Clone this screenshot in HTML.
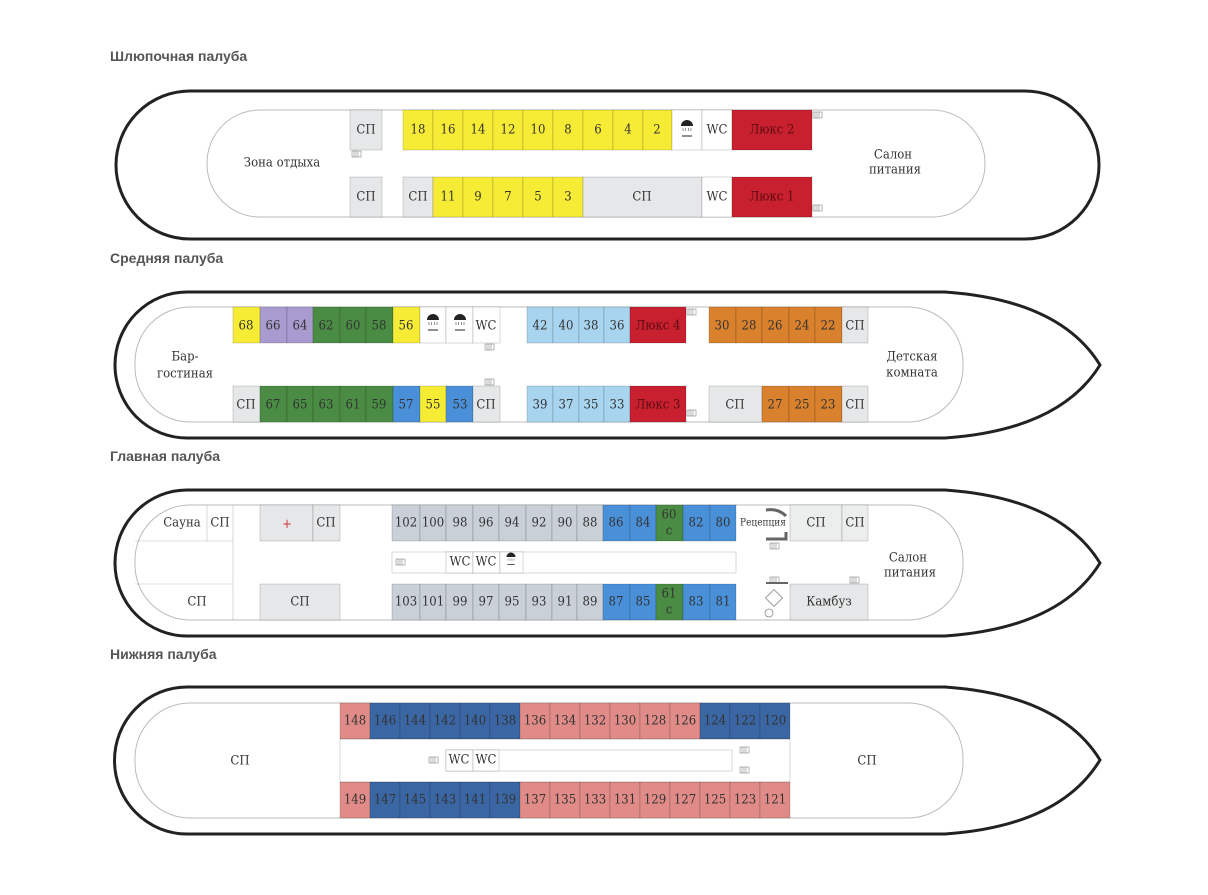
<!DOCTYPE html>
<html><head><meta charset="utf-8"><style>
html,body{margin:0;padding:0;background:#fff;}
svg{display:block;}
text{font-family:"DejaVu Serif Condensed","Liberation Sans Narrow","Liberation Sans",sans-serif;font-stretch:condensed;fill:#333;}
.t{font-family:"Liberation Sans",sans-serif;font-stretch:normal;font-size:14px;font-weight:bold;fill:#555;}
.n{font-size:13px;text-anchor:middle;dominant-baseline:central;}
.c{stroke:rgba(0,0,0,0.25);stroke-width:0.6;}
</style></head><body>
<svg width="1208" height="895" viewBox="0 0 1208 895" xmlns="http://www.w3.org/2000/svg">
<defs>
<g id="sh"><path d="M-6 4 A6 6 0 0 1 6 4 Z" fill="#222"/><path d="M-4 6V9M-1.3 6V9M1.3 6V9M4 6V9" stroke="#222" stroke-width="0.5"/><line x1="-5" y1="14" x2="5" y2="14" stroke="#222" stroke-width="1"/></g>
<g id="st"><rect x="0" y="0" width="9" height="6" fill="none" stroke="#888" stroke-width="0.6"/><path d="M2 0V6M4 0V6M6 0V6" stroke="#888" stroke-width="0.6"/></g>
</defs>

<text class="t" x="110" y="61">Шлюпочная палуба</text>
<text class="t" x="110" y="263">Средняя палуба</text>
<text class="t" x="110" y="461">Главная палуба</text>
<text class="t" x="110" y="659">Нижняя палуба</text>

<!-- DECK 1 -->
<rect x="116" y="91" width="983" height="148" rx="74" fill="#fff" stroke="#222" stroke-width="3"/>
<rect x="207" y="110" width="778" height="107" rx="53" fill="#fff" stroke="#bbb" stroke-width="1"/>
<g class="c">
<rect x="350" y="110" width="32" height="40" fill="#e6e7e8"/>
<rect x="403" y="110" width="30" height="40" fill="#f7ec35"/><rect x="433" y="110" width="30" height="40" fill="#f7ec35"/><rect x="463" y="110" width="30" height="40" fill="#f7ec35"/><rect x="493" y="110" width="30" height="40" fill="#f7ec35"/><rect x="523" y="110" width="30" height="40" fill="#f7ec35"/><rect x="553" y="110" width="30" height="40" fill="#f7ec35"/><rect x="583" y="110" width="30" height="40" fill="#f7ec35"/><rect x="613" y="110" width="30" height="40" fill="#f7ec35"/><rect x="643" y="110" width="29" height="40" fill="#f7ec35"/>
<rect x="672" y="110" width="30" height="40" fill="#fff"/><rect x="702" y="110" width="30" height="40" fill="#fff"/>
<rect x="732" y="110" width="80" height="40" fill="#c8202f"/>
<rect x="350" y="177" width="32" height="40" fill="#e6e7e8"/>
<rect x="403" y="177" width="30" height="40" fill="#e6e7e8"/>
<rect x="433" y="177" width="30" height="40" fill="#f7ec35"/><rect x="463" y="177" width="30" height="40" fill="#f7ec35"/><rect x="493" y="177" width="30" height="40" fill="#f7ec35"/><rect x="523" y="177" width="30" height="40" fill="#f7ec35"/><rect x="553" y="177" width="30" height="40" fill="#f7ec35"/>
<rect x="583" y="177" width="119" height="40" fill="#e6e7e8"/>
<rect x="702" y="177" width="30" height="40" fill="#fff"/>
<rect x="732" y="177" width="80" height="40" fill="#c8202f"/>
</g>
<use href="#st" x="352" y="151"/><use href="#st" x="813" y="112"/><use href="#st" x="813" y="205"/>
<use href="#sh" x="687" y="122"/>
<g class="n">
<text x="366" y="130">СП</text>
<text x="418" y="130">18</text><text x="448" y="130">16</text><text x="478" y="130">14</text><text x="508" y="130">12</text><text x="538" y="130">10</text><text x="568" y="130">8</text><text x="598" y="130">6</text><text x="628" y="130">4</text><text x="657" y="130">2</text>
<text x="717" y="130">WC</text><text x="772" y="130" style="fill:#5a0b10">Люкс 2</text>
<text x="366" y="197">СП</text><text x="418" y="197">СП</text>
<text x="448" y="197">11</text><text x="478" y="197">9</text><text x="508" y="197">7</text><text x="538" y="197">5</text><text x="568" y="197">3</text>
<text x="642" y="197">СП</text><text x="717" y="197">WC</text><text x="772" y="197" style="fill:#5a0b10">Люкс 1</text>
<text x="282" y="163">Зона отдыха</text>
<text x="893" y="155">Салон</text><text x="895" y="170">питания</text>
</g>

<!-- DECK 2 -->
<path d="M187 292 L945 292 Q1060 300 1100 365 Q1060 430 945 438 L187 438 A72 73 0 0 1 187 292 Z" fill="#fff" stroke="#222" stroke-width="3"/>
<rect x="135" y="307" width="828" height="115" rx="55" fill="#fff" stroke="#bbb" stroke-width="1"/>
<g class="c">
<rect x="233" y="307" width="27" height="36" fill="#f7ec35"/><rect x="260" y="307" width="27" height="36" fill="#a99bd0"/><rect x="287" y="307" width="26" height="36" fill="#a99bd0"/><rect x="313" y="307" width="27" height="36" fill="#4a8c43"/><rect x="340" y="307" width="26" height="36" fill="#4a8c43"/><rect x="366" y="307" width="27" height="36" fill="#4a8c43"/><rect x="393" y="307" width="27" height="36" fill="#f7ec35"/><rect x="420" y="307" width="26" height="36" fill="#fff"/><rect x="446" y="307" width="27" height="36" fill="#fff"/><rect x="473" y="307" width="27" height="36" fill="#fff"/>
<rect x="527" y="307" width="26" height="36" fill="#a8d4ef"/><rect x="553" y="307" width="26" height="36" fill="#a8d4ef"/><rect x="579" y="307" width="25" height="36" fill="#a8d4ef"/><rect x="604" y="307" width="26" height="36" fill="#a8d4ef"/><rect x="630" y="307" width="56" height="36" fill="#c8202f"/>
<rect x="709" y="307" width="27" height="36" fill="#d9812c"/><rect x="736" y="307" width="26" height="36" fill="#d9812c"/><rect x="762" y="307" width="27" height="36" fill="#d9812c"/><rect x="789" y="307" width="26" height="36" fill="#d9812c"/><rect x="815" y="307" width="27" height="36" fill="#d9812c"/><rect x="842" y="307" width="26" height="36" fill="#e6e7e8"/>
<rect x="233" y="386" width="27" height="36" fill="#e6e7e8"/><rect x="260" y="386" width="27" height="36" fill="#4a8c43"/><rect x="287" y="386" width="26" height="36" fill="#4a8c43"/><rect x="313" y="386" width="27" height="36" fill="#4a8c43"/><rect x="340" y="386" width="26" height="36" fill="#4a8c43"/><rect x="366" y="386" width="27" height="36" fill="#4a8c43"/><rect x="393" y="386" width="27" height="36" fill="#4a90d9"/><rect x="420" y="386" width="26" height="36" fill="#f7ec35"/><rect x="446" y="386" width="27" height="36" fill="#4a90d9"/><rect x="473" y="386" width="27" height="36" fill="#e6e7e8"/>
<rect x="527" y="386" width="26" height="36" fill="#a8d4ef"/><rect x="553" y="386" width="26" height="36" fill="#a8d4ef"/><rect x="579" y="386" width="25" height="36" fill="#a8d4ef"/><rect x="604" y="386" width="26" height="36" fill="#a8d4ef"/><rect x="630" y="386" width="56" height="36" fill="#c8202f"/>
<rect x="709" y="386" width="53" height="36" fill="#e6e7e8"/><rect x="762" y="386" width="27" height="36" fill="#d9812c"/><rect x="789" y="386" width="26" height="36" fill="#d9812c"/><rect x="815" y="386" width="27" height="36" fill="#d9812c"/><rect x="842" y="386" width="26" height="36" fill="#e6e7e8"/>
</g>
<use href="#sh" x="433" y="316"/><use href="#sh" x="460" y="316"/>
<use href="#st" x="485" y="344"/><use href="#st" x="485" y="379"/><use href="#st" x="687" y="309"/><use href="#st" x="687" y="410"/>
<g class="n">
<text x="246" y="326">68</text><text x="273" y="326">66</text><text x="300" y="326">64</text><text x="326" y="326">62</text><text x="353" y="326">60</text><text x="379" y="326">58</text><text x="406" y="326">56</text><text x="486" y="326">WC</text>
<text x="540" y="326">42</text><text x="566" y="326">40</text><text x="591" y="326">38</text><text x="617" y="326">36</text><text x="658" y="326" style="fill:#5a0b10">Люкс 4</text>
<text x="722" y="326">30</text><text x="749" y="326">28</text><text x="775" y="326">26</text><text x="802" y="326">24</text><text x="828" y="326">22</text><text x="855" y="326">СП</text>
<text x="246" y="405">СП</text><text x="273" y="405">67</text><text x="300" y="405">65</text><text x="326" y="405">63</text><text x="353" y="405">61</text><text x="379" y="405">59</text><text x="406" y="405">57</text><text x="433" y="405">55</text><text x="460" y="405">53</text><text x="486" y="405">СП</text>
<text x="540" y="405">39</text><text x="566" y="405">37</text><text x="591" y="405">35</text><text x="617" y="405">33</text><text x="658" y="405" style="fill:#5a0b10">Люкс 3</text>
<text x="735" y="405">СП</text><text x="775" y="405">27</text><text x="802" y="405">25</text><text x="828" y="405">23</text><text x="855" y="405">СП</text>
<text x="185" y="357">Бар-</text><text x="185" y="374">гостиная</text>
<text x="912" y="357">Детская</text><text x="912" y="373">комната</text>
</g>

<!-- DECK 3 -->
<path d="M187 490 L945 490 Q1060 498 1100 563 Q1060 628 945 636 L187 636 A72 73 0 0 1 187 490 Z" fill="#fff" stroke="#222" stroke-width="3"/>
<rect x="135" y="505" width="828" height="115" rx="55" fill="#fff" stroke="#bbb" stroke-width="1"/>
<g class="c">
<line x1="233" y1="505" x2="233" y2="620"/><line x1="135" y1="541" x2="233" y2="541"/><line x1="135" y1="584" x2="233" y2="584"/>
<line x1="207" y1="505" x2="207" y2="541"/>
<rect x="260" y="505" width="53" height="36" fill="#e6e7e8"/><rect x="313" y="505" width="27" height="36" fill="#e6e7e8"/>
<rect x="392" y="505" width="28" height="36" fill="#c9d0d8"/><rect x="420" y="505" width="26" height="36" fill="#c9d0d8"/><rect x="446" y="505" width="27" height="36" fill="#c9d0d8"/><rect x="473" y="505" width="26" height="36" fill="#c9d0d8"/><rect x="499" y="505" width="27" height="36" fill="#c9d0d8"/><rect x="526" y="505" width="26" height="36" fill="#c9d0d8"/><rect x="552" y="505" width="25" height="36" fill="#c9d0d8"/><rect x="577" y="505" width="26" height="36" fill="#c9d0d8"/><rect x="603" y="505" width="27" height="36" fill="#4a90d9"/><rect x="630" y="505" width="26" height="36" fill="#4a90d9"/><rect x="656" y="505" width="27" height="36" fill="#4a8c43"/><rect x="683" y="505" width="27" height="36" fill="#4a90d9"/><rect x="710" y="505" width="26" height="36" fill="#4a90d9"/>
<rect x="790" y="505" width="52" height="36" fill="#eceded"/><rect x="842" y="505" width="26" height="36" fill="#eceded"/>
<rect x="392" y="552" width="344" height="21" fill="#fff"/><rect x="446" y="552" width="27" height="21" fill="#fff"/><rect x="473" y="552" width="27" height="21" fill="#fff"/><rect x="500" y="552" width="23" height="21" fill="#fff"/>
<rect x="260" y="584" width="80" height="36" fill="#e6e7e8"/>
<rect x="392" y="584" width="28" height="36" fill="#c9d0d8"/><rect x="420" y="584" width="26" height="36" fill="#c9d0d8"/><rect x="446" y="584" width="27" height="36" fill="#c9d0d8"/><rect x="473" y="584" width="26" height="36" fill="#c9d0d8"/><rect x="499" y="584" width="27" height="36" fill="#c9d0d8"/><rect x="526" y="584" width="26" height="36" fill="#c9d0d8"/><rect x="552" y="584" width="25" height="36" fill="#c9d0d8"/><rect x="577" y="584" width="26" height="36" fill="#c9d0d8"/><rect x="603" y="584" width="27" height="36" fill="#4a90d9"/><rect x="630" y="584" width="26" height="36" fill="#4a90d9"/><rect x="656" y="584" width="27" height="36" fill="#4a8c43"/><rect x="683" y="584" width="27" height="36" fill="#4a90d9"/><rect x="710" y="584" width="26" height="36" fill="#4a90d9"/>
<rect x="790" y="584" width="78" height="36" fill="#e6e7e8"/>
</g>
<g transform="translate(511 554) scale(0.75)"><use href="#sh"/></g>
<use href="#st" x="396" y="559"/><use href="#st" x="850" y="577"/><use href="#st" x="770" y="577"/><use href="#st" x="770" y="543"/>
<path d="M766 510 Q778 508 786 516" stroke="#666" stroke-width="3" fill="none"/>
<path d="M766 539 H786 V532" stroke="#666" stroke-width="3" fill="none"/>
<path d="M766 583 H788" stroke="#666" stroke-width="2"/>
<rect x="768" y="592" width="12" height="12" fill="#fff" stroke="#888" stroke-width="0.8" transform="rotate(45 774 598)"/>
<circle cx="769" cy="613" r="4" fill="#fff" stroke="#888" stroke-width="0.8"/>
<text x="287" y="528" style="font-size:13px;fill:#d0303a;text-anchor:middle">+</text>
<g class="n">
<text x="182" y="523">Сауна</text><text x="220" y="523">СП</text><text x="326" y="523">СП</text>
<text x="406" y="523">102</text><text x="433" y="523">100</text><text x="460" y="523">98</text><text x="486" y="523">96</text><text x="512" y="523">94</text><text x="539" y="523">92</text><text x="565" y="523">90</text><text x="590" y="523">88</text><text x="616" y="523">86</text><text x="643" y="523">84</text><text x="696" y="523">82</text><text x="723" y="523">80</text>
<text x="669" y="515" style="font-size:13px">60</text><text x="669" y="531" style="font-size:13px">с</text>
<text x="763" y="523" style="font-size:10px">Рецепция</text>
<text x="816" y="523">СП</text><text x="855" y="523">СП</text>
<text x="460" y="562">WC</text><text x="486" y="562">WC</text>
<text x="197" y="602">СП</text><text x="300" y="602">СП</text>
<text x="406" y="602">103</text><text x="433" y="602">101</text><text x="460" y="602">99</text><text x="486" y="602">97</text><text x="512" y="602">95</text><text x="539" y="602">93</text><text x="565" y="602">91</text><text x="590" y="602">89</text><text x="616" y="602">87</text><text x="643" y="602">85</text><text x="696" y="602">83</text><text x="723" y="602">81</text>
<text x="669" y="594" style="font-size:13px">61</text><text x="669" y="610" style="font-size:13px">с</text>
<text x="829" y="602">Камбуз</text>
<text x="908" y="558">Салон</text><text x="910" y="573">питания</text>
</g>

<!-- DECK 4 -->
<path d="M187 687 L945 687 Q1060 695 1100 760 Q1060 826 945 834 L187 834 A72 73 0 0 1 187 687 Z" fill="#fff" stroke="#222" stroke-width="3"/>
<rect x="135" y="703" width="828" height="115" rx="55" fill="#fff" stroke="#bbb" stroke-width="1"/>
<g class="c">
<rect x="340" y="703" width="30" height="36" fill="#e08b87"/><rect x="370" y="703" width="30" height="36" fill="#3a66a4"/><rect x="400" y="703" width="30" height="36" fill="#3a66a4"/><rect x="430" y="703" width="30" height="36" fill="#3a66a4"/><rect x="460" y="703" width="30" height="36" fill="#3a66a4"/><rect x="490" y="703" width="30" height="36" fill="#3a66a4"/><rect x="520" y="703" width="30" height="36" fill="#e08b87"/><rect x="550" y="703" width="30" height="36" fill="#e08b87"/><rect x="580" y="703" width="30" height="36" fill="#e08b87"/><rect x="610" y="703" width="30" height="36" fill="#e08b87"/><rect x="640" y="703" width="30" height="36" fill="#e08b87"/><rect x="670" y="703" width="30" height="36" fill="#e08b87"/><rect x="700" y="703" width="30" height="36" fill="#3a66a4"/><rect x="730" y="703" width="30" height="36" fill="#3a66a4"/><rect x="760" y="703" width="30" height="36" fill="#3a66a4"/>
<rect x="340" y="782" width="30" height="36" fill="#e08b87"/><rect x="370" y="782" width="30" height="36" fill="#3a66a4"/><rect x="400" y="782" width="30" height="36" fill="#3a66a4"/><rect x="430" y="782" width="30" height="36" fill="#3a66a4"/><rect x="460" y="782" width="30" height="36" fill="#3a66a4"/><rect x="490" y="782" width="30" height="36" fill="#3a66a4"/><rect x="520" y="782" width="30" height="36" fill="#e08b87"/><rect x="550" y="782" width="30" height="36" fill="#e08b87"/><rect x="580" y="782" width="30" height="36" fill="#e08b87"/><rect x="610" y="782" width="30" height="36" fill="#e08b87"/><rect x="640" y="782" width="30" height="36" fill="#e08b87"/><rect x="670" y="782" width="30" height="36" fill="#e08b87"/><rect x="700" y="782" width="30" height="36" fill="#e08b87"/><rect x="730" y="782" width="30" height="36" fill="#e08b87"/><rect x="760" y="782" width="30" height="36" fill="#e08b87"/>
<line x1="340" y1="739" x2="790" y2="739"/><line x1="340" y1="782" x2="790" y2="782"/><line x1="340" y1="739" x2="340" y2="782"/><line x1="790" y1="739" x2="790" y2="782"/>
<rect x="446" y="750" width="286" height="21" fill="#fff"/><rect x="446" y="750" width="27" height="21" fill="#fff"/><rect x="473" y="750" width="26" height="21" fill="#fff"/>
</g>
<use href="#st" x="429" y="757"/><use href="#st" x="740" y="747"/><use href="#st" x="740" y="767"/>
<g class="n">
<text x="355" y="721">148</text><text x="385" y="721">146</text><text x="415" y="721">144</text><text x="445" y="721">142</text><text x="475" y="721">140</text><text x="505" y="721">138</text><text x="535" y="721">136</text><text x="565" y="721">134</text><text x="595" y="721">132</text><text x="625" y="721">130</text><text x="655" y="721">128</text><text x="685" y="721">126</text><text x="715" y="721">124</text><text x="745" y="721">122</text><text x="775" y="721">120</text>
<text x="355" y="800">149</text><text x="385" y="800">147</text><text x="415" y="800">145</text><text x="445" y="800">143</text><text x="475" y="800">141</text><text x="505" y="800">139</text><text x="535" y="800">137</text><text x="565" y="800">135</text><text x="595" y="800">133</text><text x="625" y="800">131</text><text x="655" y="800">129</text><text x="685" y="800">127</text><text x="715" y="800">125</text><text x="745" y="800">123</text><text x="775" y="800">121</text>
<text x="459" y="760">WC</text><text x="486" y="760">WC</text>
<text x="240" y="761">СП</text><text x="867" y="761">СП</text>
</g>
</svg>
</body></html>
